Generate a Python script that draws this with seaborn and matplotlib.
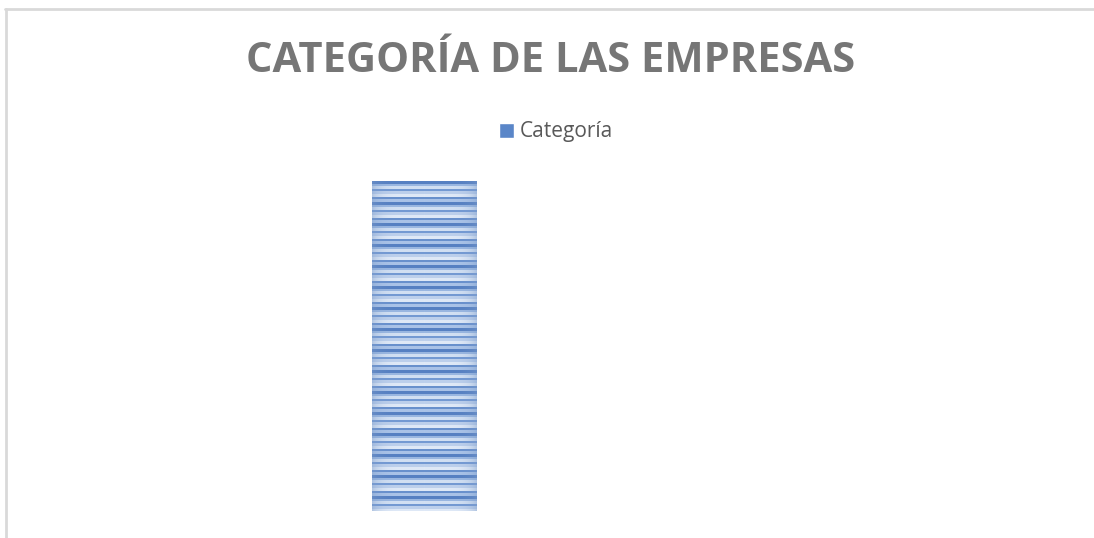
import numpy as np
import pandas as pd
import seaborn as sns
import matplotlib
matplotlib.use("Agg")
import matplotlib.pyplot as plt
from matplotlib.colors import to_rgb
from matplotlib.patches import Patch
from matplotlib.lines import Line2D

# ---- data ----
title = "CATEGORÍA DE LAS EMPRESAS"
series_name = "Categoría"
categories = [""]
values = [1.0]

# ---- style ----
bar_color = "#5a86c8"
# repeating stripe texture (colour, thickness in px) for the bar fill
stripe_colors = ["#5680c2", "#9ab7e1", "#d2e0f3", "#7399d3", "#bdd0ec", "#dfe9f7", "#6890cd", "#aac3e8"]
stripe_sizes = [3, 2, 3, 2, 3, 3, 2, 3]

sns.set_theme(style="white")
plt.rcParams['font.family'] = ['Open Sans', 'DejaVu Sans']

W, H = 1094, 538
fig = plt.figure(figsize=(W / 100, H / 100), dpi=100)
fig.patch.set_facecolor("white")

ax = fig.add_axes([372 / W, 27 / H, 105 / W, 330 / H])
df = pd.DataFrame({"cat": categories, "val": values})
sns.barplot(data=df, x="cat", y="val", ax=ax, width=1.0, color=bar_color, saturation=1)
ax.set_xlim(-0.5, 0.5)
ax.set_ylim(0, max(values))
ax.axis("off")

# texture fill clipped to each bar
row_cols = []
for c, s in zip(stripe_colors, stripe_sizes):
    row_cols += [to_rgb(c)] * s
row_cols = np.array(row_cols)
nrows = 330
ncols = 105
rows = np.array([row_cols[i % len(row_cols)] for i in range(nrows)])
xs = np.linspace(0, 1, ncols)
edge = np.clip(np.abs(xs - 0.5) * 2, 0, 1) ** 6
edge_col = np.array(to_rgb("#7d9cca"))
tex = rows[:, None, :] * (1 - 0.45 * edge[None, :, None]) + edge_col[None, None, :] * 0.45 * edge[None, :, None]
for p in ax.patches:
    bb = p.get_bbox()
    im = ax.imshow(tex, extent=[bb.x0, bb.x1, bb.y0, bb.y1], aspect="auto",
                   interpolation="nearest", zorder=p.get_zorder() + 0.1)
    im.set_clip_path(p)
ax.set_xlim(-0.5, 0.5)
ax.set_ylim(0, max(values))

# chart area border (top and left visible)
border = "#d9d9d9"
fig.add_artist(Line2D([5 / W, 1], [1 - 8.5 / H, 1 - 8.5 / H], color=border, lw=2, transform=fig.transFigure))
fig.add_artist(Line2D([6 / W, 6 / W], [0, 1 - 8.5 / H], color=border, lw=2, transform=fig.transFigure))

fig.text(551 / W, 1 - 61 / H, title, ha="center", va="center", fontsize=30,
         fontweight="bold", color="#767676")

fig.legend(handles=[Patch(facecolor=bar_color, label=series_name)], loc="center",
           bbox_to_anchor=(556 / W, 1 - 132 / H), frameon=False, handlelength=0.7,
           handleheight=0.7, handletextpad=0.3, fontsize=15, labelcolor="#595959")

fig.savefig("out.png", dpi=100)
